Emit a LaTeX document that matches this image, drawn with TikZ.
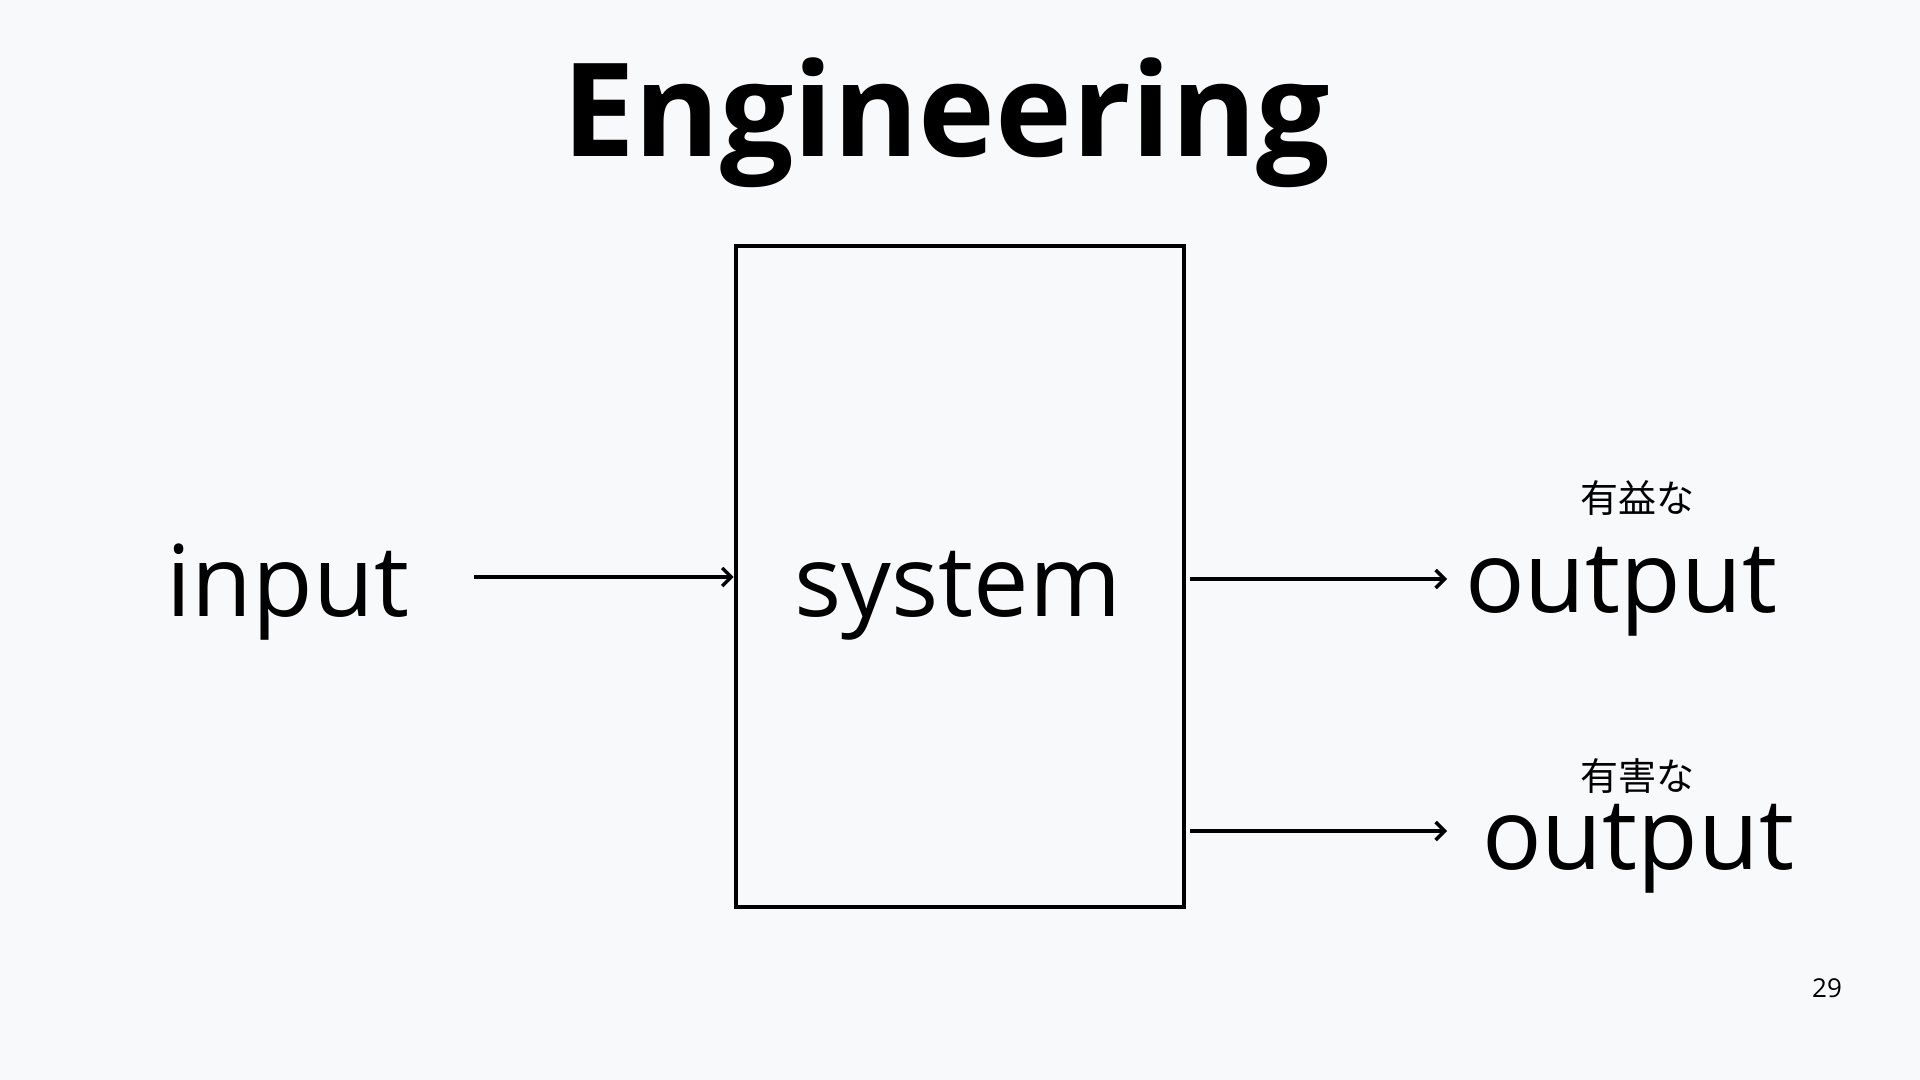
\documentclass[tikz,border=0pt]{standalone}
\usepackage{fontspec}
\setmainfont{Open Sans}
\newfontfamily\jpfont{Noto Sans CJK JP}
\usetikzlibrary{arrows.meta}
\definecolor{bg}{RGB}{248,249,251}
\tikzset{
  big/.style={font=\fontsize{49.5pt}{55pt}\selectfont, inner sep=0pt, anchor=base},
  small/.style={font=\jpfont\fontsize{19pt}{22pt}\selectfont, inner sep=0pt},
  conn/.style={line width=2pt, -{Straight Barb[length=4.5pt,width=9pt,line width=1.7pt]}}
}
\begin{document}
\begin{tikzpicture}[x=0.5pt,y=-0.5pt]
\fill[bg] (0,0) rectangle (1920,1080);
\useasboundingbox (0,0) rectangle (1920,1080);
\node[font=\fontsize{65pt}{70pt}\selectfont\bfseries, inner sep=0pt, anchor=base] (title) at (946,157) {Engineering};
\node[draw, line width=2pt, minimum width=224pt, minimum height=330pt, inner sep=0pt] (box) at (959.6,576.5) {};
\node[big] (input) at (288,616) {input};
\node[big] (system) at (958,616) {system};
\node[big] (out1) at (1621,612) {output};
\node[big] (out2) at (1638,869) {output};
\node[small] (good) at (1637,498) {有益な};
\node[small] (bad) at (1637,776) {有害な};
\node[font=\fontsize{13pt}{15pt}\selectfont, inner sep=0pt, anchor=base] (page) at (1827,997) {29};
\coordinate (a1s) at (474,577);
\coordinate (a2s) at (1190,579);
\coordinate (a2e) at (1447,579);
\coordinate (a3s) at (1190,831);
\coordinate (a3e) at (1447,831);
\draw[conn] (a1s) -- (a1s -| box.west);
\draw[conn] (a2s) -- (a2e);
\draw[conn] (a3s) -- (a3e);
\end{tikzpicture}
\end{document}
